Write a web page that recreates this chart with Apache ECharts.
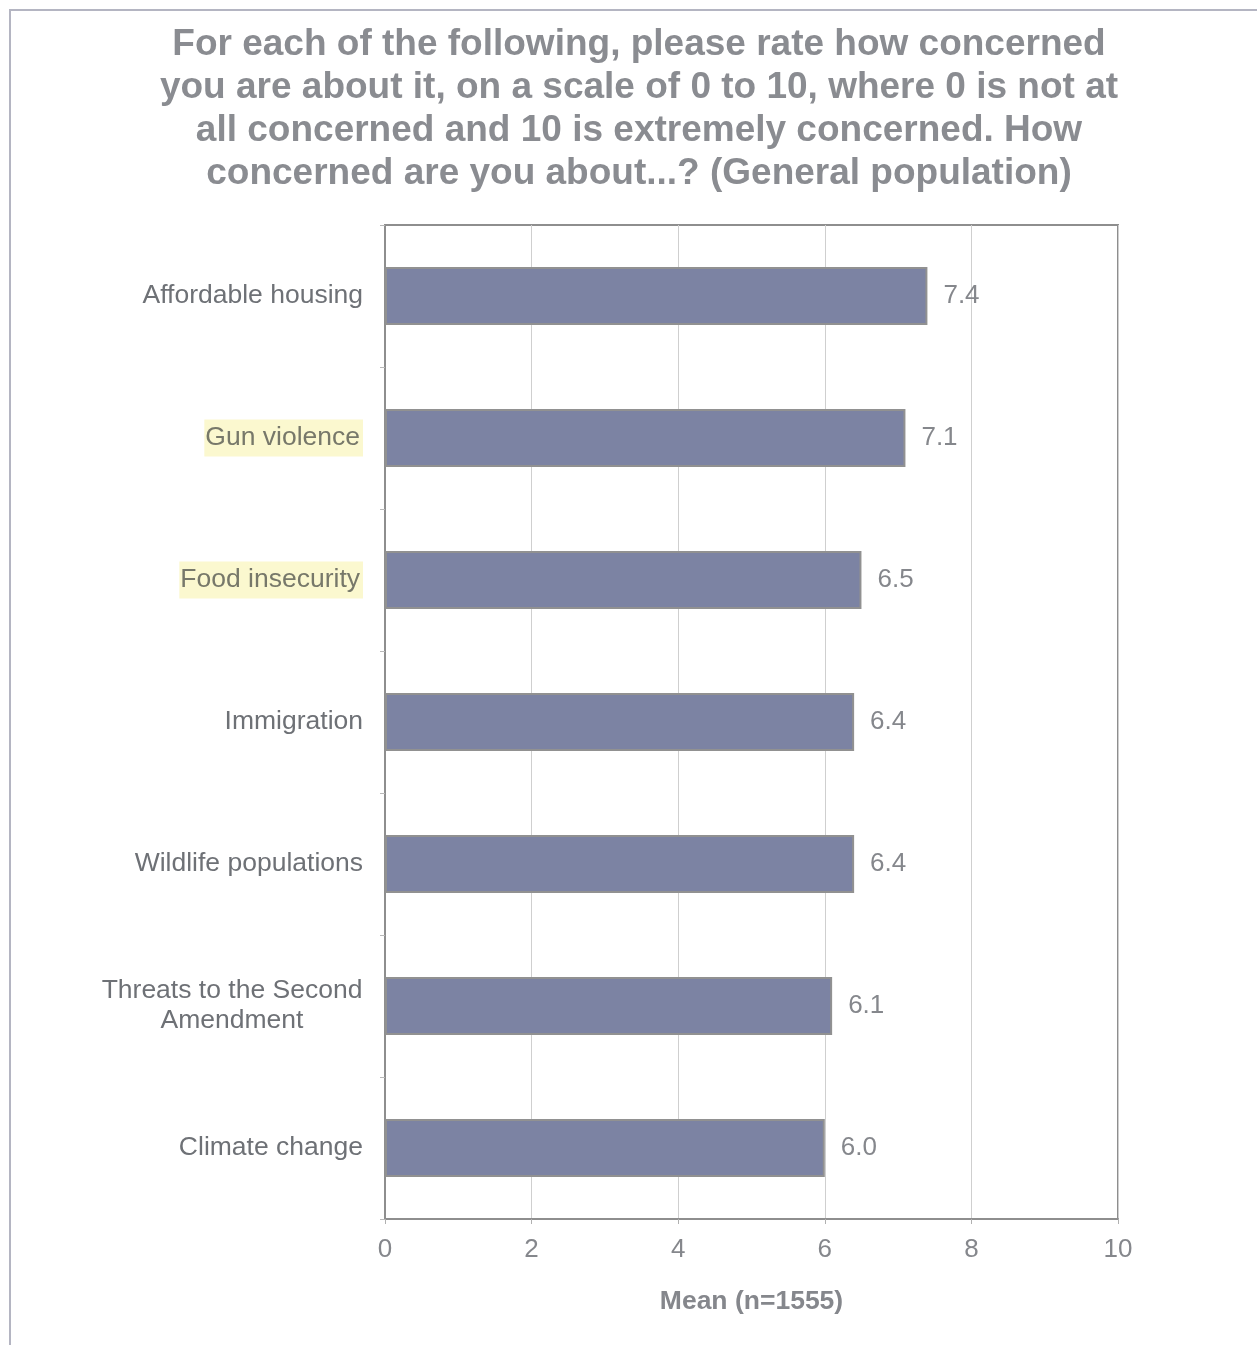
<!DOCTYPE html>
<html>
<head>
<meta charset="utf-8">
<script src="https://cdn.jsdelivr.net/npm/echarts@6/dist/echarts.min.js"></script>
<style>
  html, body { margin: 0; padding: 0; background: #ffffff; }
  #chart { width: 1257px; height: 1345px; }
</style>
</head>
<body>
<div id="chart"></div>
<script>
// Concern ratings (mean on 0–10 scale), general population
const categories = [
  'Affordable housing',
  'Gun violence',
  'Food insecurity',
  'Immigration',
  'Wildlife populations',
  'Threats to the Second\nAmendment',
  'Climate change'
];
const meanValues = [7.4, 7.1, 6.5, 6.4, 6.4, 6.1, 6.0];
const highlighted = ['Gun violence', 'Food insecurity'];
const xTicks = [0, 2, 4, 6, 8, 10];

const titleText = 'For each of the following, please rate how concerned\n' +
  'you are about it, on a scale of 0 to 10, where 0 is not at\n' +
  'all concerned and 10 is extremely concerned. How\n' +
  'concerned are you about...? (General population)';

const FONT = 'Liberation Sans, Arial, sans-serif';

const chart = echarts.init(document.getElementById('chart'), null, { renderer: 'canvas' });

chart.setOption({
  backgroundColor: '#ffffff',
  animation: false,
  graphic: [
    {
      type: 'rect',
      shape: { x: 10, y: 10, width: 1260, height: 1360 },
      style: { fill: null, stroke: '#b4b5c2', lineWidth: 2 },
      silent: true
    },
    {
      // chart title, centred over the plot frame
      type: 'text',
      x: 639,
      y: 23,
      silent: true,
      style: {
        text: titleText,
        fontFamily: FONT,
        fontSize: 37,
        fontWeight: 'bold',
        fill: '#8a8c91',
        lineHeight: 43,
        align: 'center',
        verticalAlign: 'top'
      }
    }
  ],
  grid: {
    left: 385,
    right: 139,
    top: 225,
    bottom: 126,
    show: true,
    borderColor: '#8e8e8e',
    borderWidth: 2
  },
  xAxis: {
    type: 'value',
    min: 0,
    max: 10,
    interval: 2,
    name: 'Mean (n=1555)',
    nameLocation: 'middle',
    nameGap: 69,
    nameTextStyle: {
      fontFamily: FONT,
      fontSize: 26.5,
      fontWeight: 'bold',
      color: '#85878c'
    },
    axisLine: { show: true, lineStyle: { color: '#8e8e8e', width: 2 } },
    axisTick: { show: true, length: 5, lineStyle: { color: '#b0b0b0' } },
    axisLabel: {
      margin: 18,
      fontFamily: FONT,
      fontSize: 26,
      color: '#85878c',
      formatter: v => xTicks.includes(v) ? String(v) : ''
    },
    splitLine: { show: true, lineStyle: { color: '#cfcfcf', width: 1 } }
  },
  yAxis: {
    type: 'category',
    data: categories,
    inverse: true,
    axisLine: { show: true, lineStyle: { color: '#8e8e8e', width: 2 } },
    axisTick: { show: true, length: 5, lineStyle: { color: '#b8b8b8' } },
    axisLabel: {
      margin: 22,
      fontFamily: FONT,
      fontSize: 26.5,
      color: '#6e7176',
      formatter: function (v) {
        if (highlighted.includes(v)) return '{hl|' + v + '}';
        if (v.indexOf('\n') >= 0) {
          return v.split('\n').map(s => '{ml|' + s + '}').join('\n');
        }
        return v;
      },
      rich: {
        hl: {
          fontFamily: FONT,
          fontSize: 26.5,
          color: '#77786a',
          backgroundColor: '#fbf8cf',
          padding: [5, 3, 5, 1]
        },
        ml: {
          fontFamily: FONT,
          fontSize: 26.5,
          color: '#6e7176',
          width: 262,
          align: 'center',
          lineHeight: 30
        }
      }
    }
  },
  series: [{
    type: 'bar',
    data: meanValues,
    barWidth: 58,
    itemStyle: {
      color: '#7c83a3',
      borderColor: '#919191',
      borderWidth: 2
    },
    label: {
      show: true,
      position: 'right',
      distance: 16,
      fontFamily: FONT,
      fontSize: 26,
      color: '#85878c',
      formatter: p => p.value.toFixed(1)
    }
  }]
});
</script>
</body>
</html>
